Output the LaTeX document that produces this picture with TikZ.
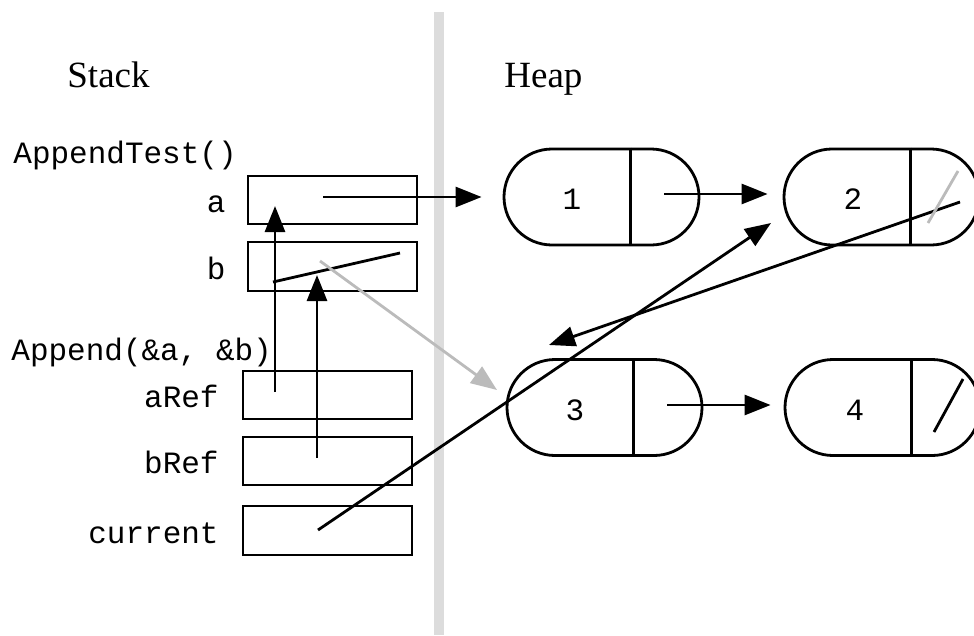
\documentclass[tikz,border=0pt]{standalone}
\usepackage{fontspec}
\setmainfont{Liberation Serif}
\newfontfamily\monofont{Liberation Mono}
\usetikzlibrary{arrows.meta,shapes.misc}
\definecolor{divgray}{HTML}{DCDCDC}
\definecolor{ptrgray}{HTML}{BBBBBB}
\begin{document}
\begin{tikzpicture}[x=1pt,y=-1pt,line width=2.8pt,
  tip/.style={-{Triangle[length=26pt,width=20pt]}},
  slot/.style={draw,rectangle,minimum width=169pt,minimum height=48pt,inner sep=0pt},
  cell/.style={draw,rounded rectangle,minimum width=195pt,minimum height=96pt,inner sep=0pt},
  lbl/.style={font=\monofont\fontsize{31}{35}\selectfont,inner sep=0pt,anchor=base east},
  frame/.style={font=\monofont\fontsize{31}{35}\selectfont,inner sep=0pt,anchor=base west},
  title/.style={font=\fontsize{37}{40}\selectfont,inner sep=0pt,anchor=base west},
  val/.style={font=\monofont\fontsize{31}{35}\selectfont,inner sep=0pt,anchor=base}]
\useasboundingbox (0,0) rectangle (974,635);
\begin{scope}
\clip (0,0) rectangle (974,635);
% divider
\fill[divgray] (434,12) rectangle (444,635);
% titles
\node[title] (stack) at (66,87) {Stack};
\node[title] (heap) at (503,87) {Heap};
\node[frame] (f1) at (12,163) {AppendTest()};
\node[frame] (f2) at (10,360) {Append(\&a, \&b)};
% stack slots
\node[slot] (a) at (332.5,200) {};
\node[slot,minimum height=49pt] (b) at (332.5,266.5) {};
\node[slot] (aref) at (327.5,395) {};
\node[slot] (bref) at (327.5,461) {};
\node[slot,minimum height=49pt] (cur) at (327.5,530.5) {};
\node[lbl] (la) at (227,212) {a};
\node[lbl] (lb) at (227,279) {b};
\node[lbl] (laref) at (220,407) {aRef};
\node[lbl] (lbref) at (220,473) {bRef};
\node[lbl] (lcur) at (220,543) {current};
% heap cells
\node[cell] (n1) at (601.5,197) {};
\node[cell] (n2) at (881.5,197) {};
\node[cell] (n3) at (604.5,407.5) {};
\node[cell] (n4) at (882.5,407.5) {};
\foreach \n in {n1,n2,n3,n4}{
  \path (\n.west) ++(128,0) coordinate (d\n);
  \draw (d\n |- \n.north) -- (d\n |- \n.south);
}
\node[val] (v1) at (572,209) {1};
\node[val] (v2) at (853,209) {2};
\node[val] (v3) at (575,420) {3};
\node[val] (v4) at (855,420) {4};
% pointer origins and ends
\coordinate (pa) at (323,197);
\coordinate (p1) at (664,194);
\coordinate (p3) at (667,405);
\coordinate (pA) at (275,392);
\coordinate (tA) at (275,206);
\coordinate (pB) at (317,458);
\coordinate (tB) at (317,275);
\coordinate (bs) at (273,282);
\coordinate (be) at (400,253);
\coordinate (pg) at (320,261);
\coordinate (tg) at (497,390);
\coordinate (p2) at (960,202);
\coordinate (t2) at (549,345);
\coordinate (pc) at (318,530);
\coordinate (tc) at (771,223);
% connectors
\draw[tip,shorten >=21pt] (pa) -- (pa -| n1.west);
\draw[tip,shorten >=15pt] (p1) -- (p1 -| n2.west);
\draw[tip,shorten >=13pt] (p3) -- (p3 -| n4.west);
\draw[tip] (pA) -- (tA);
\draw[tip] (pB) -- (tB);
\draw (bs) -- (be);
\draw[tip,ptrgray] (pg) -- (tg);
\draw[tip] (p2) -- (t2);
\draw[tip] (pc) -- (tc);
% null slashes
\draw[ptrgray] (928,223) -- (958,171);
\draw (934,432) -- (963,379);
\end{scope}
\end{tikzpicture}
\end{document}
